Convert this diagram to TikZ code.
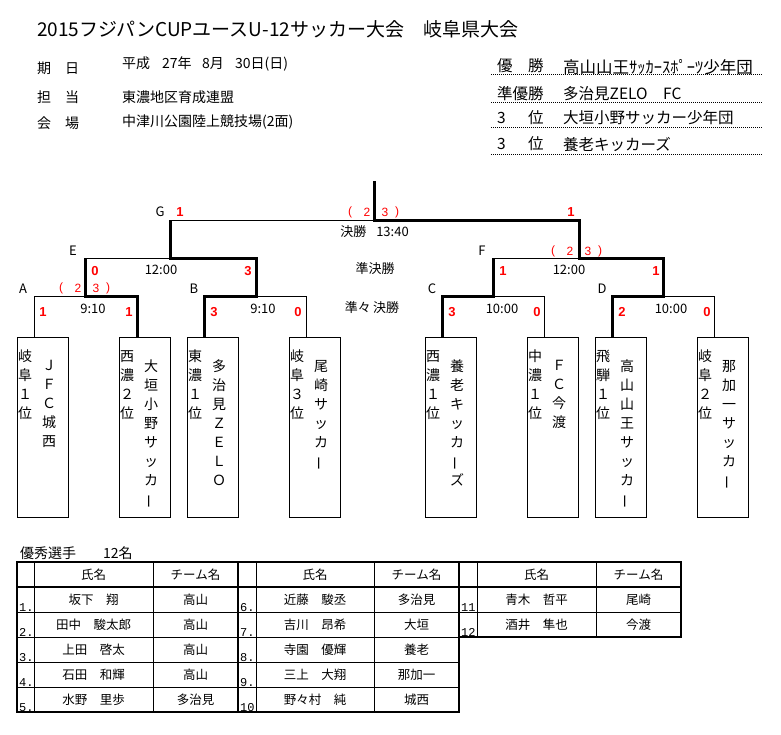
\documentclass[tikz,border=0pt]{standalone}
\usepackage{graphicx}
\usepackage{fontspec}
\setmainfont{Noto Sans CJK JP}
\newfontfamily\scorefnt{Liberation Sans}
\newfontfamily\monofnt{Liberation Mono}
\newcommand\tatebo{\rotatebox[origin=c]{90}{ー}}
\newcommand\pkmark[3]{%
  \node[pkt] (#1a) at (#2,#3) {(};
  \node[pkt] (#1b) at (#2+17,#3) {2};
  \node[pkt] (#1c) at (#2+35,#3) {3};
  \node[pkt] (#1d) at (#2+47,#3) {)};}
\newcommand\tbox[4]{%
  \node[teambox, anchor=north west] (#1) at (#2,337) {};
  \node[vcol] (#1L) at (#2+8,350) {#3};
  \node[vcol] (#1R) at (#2+32,360) {#4};}
\begin{document}
\begin{tikzpicture}[x=1pt,y=-1pt,
  lbl/.style={font=\fontsize{13}{15}\selectfont, inner sep=0},
  infotxt/.style={font=\fontsize{14}{16}\selectfont, inner sep=0, anchor=west},
  restxt/.style={font=\fontsize{15.5}{17}\selectfont, inner sep=0, anchor=west},
  score/.style={font=\scorefnt\bfseries\fontsize{13}{15}\selectfont, text=red, inner sep=0},
  pkt/.style={font=\scorefnt\fontsize{12}{14}\selectfont, text=red, inner sep=0},
  teambox/.style={draw, line width=1pt, minimum width=51pt, minimum height=180pt, inner sep=0},
  vcol/.style={font=\fontsize{14}{19}\selectfont, align=center, inner sep=0, anchor=north},
  thinln/.style={line width=1pt},
  winln/.style={line width=3pt, line join=miter},
  celltxt/.style={font=\fontsize{12.5}{14}\selectfont, inner sep=0},
  numtxt/.style={font=\monofnt\fontsize{12}{13}\selectfont, inner sep=0, anchor=base west},
  dotln/.style={line width=1pt, dash pattern=on 1pt off 1pt}]
\useasboundingbox (0,0) rectangle (781,734);
\fill[white] (0,0) rectangle (781,734);

% ---------- header ----------
\node[font=\fontsize{19}{21}\selectfont, inner sep=0, anchor=west] (title) at (37,29)
  {2015フジパンCUPユースU-12サッカー大会　岐阜県大会};
\node[infotxt] (k1) at (37,68) {期　日};
\node[infotxt] (k2) at (37,97) {担　当};
\node[infotxt] (k3) at (37,123) {会　場};
\node[infotxt] (v1) at (122,64) {\makebox[40pt][l]{平成}\makebox[40pt][l]{27年}\makebox[33pt][l]{8月}30日(日)};
\node[infotxt] (v2) at (122,97) {東濃地区育成連盟};
\node[infotxt] (v3) at (122,122) {中津川公園陸上競技場(2面)};

\node[restxt] (r1) at (497,66) {優　勝};
\node[restxt] (r2) at (497,94) {準優勝};
\node[restxt] (r3) at (497,118) {\makebox[31pt][l]{3}位};
\node[restxt] (r4) at (497,144) {\makebox[31pt][l]{3}位};
\node[restxt, font=\fontsize{16.5}{18}\selectfont] (w1) at (563,67) {高山山王ｻｯｶｰｽﾎﾟｰﾂ少年団};
\node[restxt] (w2) at (563,94) {多治見ZELO　FC};
\node[restxt] (w3) at (563,118) {大垣小野サッカー少年団};
\node[restxt] (w4) at (563,145) {養老キッカーズ};
\foreach \yy in {74,102,127,154} \draw[dotln] (491,\yy) -- (763,\yy);

% ---------- bracket coordinates ----------
\coordinate (top) at (374,181);
\coordinate (G-m) at (374,220); \coordinate (G-l) at (170,220); \coordinate (G-r) at (579,220);
\coordinate (E-l) at (85,258);  \coordinate (E-m) at (170,258); \coordinate (E-r) at (256,258);
\coordinate (F-l) at (493,258); \coordinate (F-m) at (579,258); \coordinate (F-r) at (663,258);
\coordinate (A-l) at (34,296);  \coordinate (A-m) at (85,296);  \coordinate (A-r) at (137,296);
\coordinate (B-l) at (204,296); \coordinate (B-m) at (256,296); \coordinate (B-r) at (306,296);
\coordinate (C-l) at (442,296); \coordinate (C-m) at (493,296); \coordinate (C-r) at (544,296);
\coordinate (D-l) at (612,296); \coordinate (D-m) at (663,296); \coordinate (D-r) at (714,296);

% ---------- team boxes ----------
\tbox{b1}{17}{岐\\阜\\１\\位}{Ｊ\\Ｆ\\Ｃ\\城\\西}
\tbox{b2}{119}{西\\濃\\２\\位}{大\\垣\\小\\野\\サ\\ッ\\カ\\\tatebo}
\tbox{b3}{187}{東\\濃\\１\\位}{多\\治\\見\\Ｚ\\Ｅ\\Ｌ\\Ｏ}
\tbox{b4}{289}{岐\\阜\\３\\位}{尾\\崎\\サ\\ッ\\カ\\\tatebo}
\tbox{b5}{425}{西\\濃\\１\\位}{養\\老\\キ\\ッ\\カ\\\tatebo\\ズ}
\tbox{b6}{527}{中\\濃\\１\\位}{Ｆ\\Ｃ\\今\\渡}
\tbox{b7}{595}{飛\\騨\\１\\位}{高\\山\\山\\王\\サ\\ッ\\カ\\\tatebo}
\tbox{b8}{697}{岐\\阜\\２\\位}{那\\加\\一\\サ\\ッ\\カ\\\tatebo}
\coordinate (t1) at (34,337);  \coordinate (t2) at (137,337);
\coordinate (t3) at (204,337); \coordinate (t4) at (306,337);
\coordinate (t5) at (442,337); \coordinate (t6) at (544,337);
\coordinate (t7) at (612,337); \coordinate (t8) at (714,337);

% ---------- losing (thin) lines ----------
\draw[thinln] (t1) -- (A-l) -- (A-m);
\draw[thinln] (t4) -- (B-r) -- (B-m);
\draw[thinln] (t6) -- (C-r) -- (C-m);
\draw[thinln] (t8) -- (D-r) -- (D-m);
\draw[thinln] (E-l) -- (E-m);
\draw[thinln] (F-l) -- (F-m);
\draw[thinln] (G-l) -- (G-m);
% ---------- winning (thick) lines ----------
\draw[winln] (t2) -- (A-r) -- (A-m) -- (E-l);
\draw[winln] (t3) -- (B-l) -- (B-m) -- (E-r) -- (E-m) -- (G-l);
\draw[winln] (t5) -- (C-l) -- (C-m) -- (F-l);
\draw[winln] (t7) -- (D-l) -- (D-m) -- (F-r) -- (F-m) -- (G-r) -- (G-m) -- (top);

% ---------- bracket labels ----------
\node[lbl] (lG) at (160,212) {G};
\node[lbl] (lE) at (73,251) {E};
\node[lbl] (lF) at (482,251) {F};
\node[lbl] (lA) at (23,289) {A};
\node[lbl] (lB) at (194,289) {B};
\node[lbl] (lC) at (432,289) {C};
\node[lbl] (lD) at (602,289) {D};

\node[score] (sG1) at (180,212) {1};  \node[score] (sG2) at (571,212) {1};
\pkmark{pG}{350}{212}
\node[lbl] (final) at (374.5,232) {決勝\hspace{10pt}13:40};
\node[score] (sE1) at (95,271) {0};  \node[lbl] (tmE) at (161,270) {12:00}; \node[score] (sE2) at (248,271) {3};
\node[score] (sF1) at (503,271) {1}; \node[lbl] (tmF) at (569,270) {12:00}; \node[score] (sF2) at (656,271) {1};
\pkmark{pF}{553}{251}
\node[lbl] (semi) at (375,269) {準決勝};
\pkmark{pA}{61}{288}
\node[score] (sA1) at (43,312) {1};  \node[lbl] (tmA) at (93,309) {9:10};  \node[score] (sA2) at (129,312) {1};
\node[score] (sB1) at (214,312) {3}; \node[lbl] (tmB) at (263,309) {9:10}; \node[score] (sB2) at (298,312) {0};
\node[score] (sC1) at (452,312) {3}; \node[lbl] (tmC) at (502,309) {10:00}; \node[score] (sC2) at (537,312) {0};
\node[score] (sD1) at (622,312) {2}; \node[lbl] (tmD) at (671,309) {10:00}; \node[score] (sD2) at (707,312) {0};
\node[lbl] (quarter) at (372,308) {準々\,決勝};

% ---------- best players table ----------
\node[font=\fontsize{14}{16}\selectfont, inner sep=0, anchor=west] (best) at (20,553) {優秀選手\hspace{27pt}12名};
% thin inner lines
\foreach \yy in {612,637,662,687} \draw[thinln] (17,\yy) -- (459,\yy);
\draw[thinln] (459,612) -- (681,612);
\foreach \xx in {34,153,256,374} \draw[thinln] (\xx,562) -- (\xx,712);
\foreach \xx in {477,596} \draw[thinln] (\xx,562) -- (\xx,637);
% thick lines
\draw[line width=2.5pt] (17,562) rectangle (459,712);
\draw[line width=2.5pt] (459,562) rectangle (681,637);
\draw[line width=2.5pt] (17,587) -- (681,587);
\draw[line width=2.5pt] (238,562) -- (238,712);
% headers
\foreach \cx/\tx in {93.5/1,315/2,536.5/3} \node[celltxt] (hn\tx) at (\cx,575) {氏名};
\foreach \cx/\tx in {195.5/1,416.5/2,638.5/3} \node[celltxt] (ht\tx) at (\cx,575) {チーム名};
\foreach \nb/\nm/\tm [count=\r from 0] in {1./坂下　翔/高山,2./田中　駿太郎/高山,3./上田　啓太/高山,4./石田　和輝/高山,5./水野　里歩/多治見}{
  \node[numtxt] (ta\r) at (19,611+25*\r) {\nb};
  \node[celltxt] (tb\r) at (93.5,600+25*\r) {\nm};
  \node[celltxt] (tc\r) at (195.5,600+25*\r) {\tm};}
\foreach \nb/\nm/\tm [count=\r from 0] in {6./近藤　駿丞/多治見,7./吉川　昂希/大垣,8./寺園　優輝/養老,9./三上　大翔/那加一,10/野々村　純/城西}{
  \node[numtxt] (ua\r) at (240,611+25*\r) {\nb};
  \node[celltxt] (ub\r) at (315,600+25*\r) {\nm};
  \node[celltxt] (uc\r) at (416.5,600+25*\r) {\tm};}
\foreach \nb/\nm/\tm [count=\r from 0] in {11/青木　哲平/尾崎,12/酒井　隼也/今渡}{
  \node[numtxt] (va\r) at (461,611+25*\r) {\nb};
  \node[celltxt] (vb\r) at (536.5,600+25*\r) {\nm};
  \node[celltxt] (vc\r) at (638.5,600+25*\r) {\tm};}
\end{tikzpicture}
\end{document}
